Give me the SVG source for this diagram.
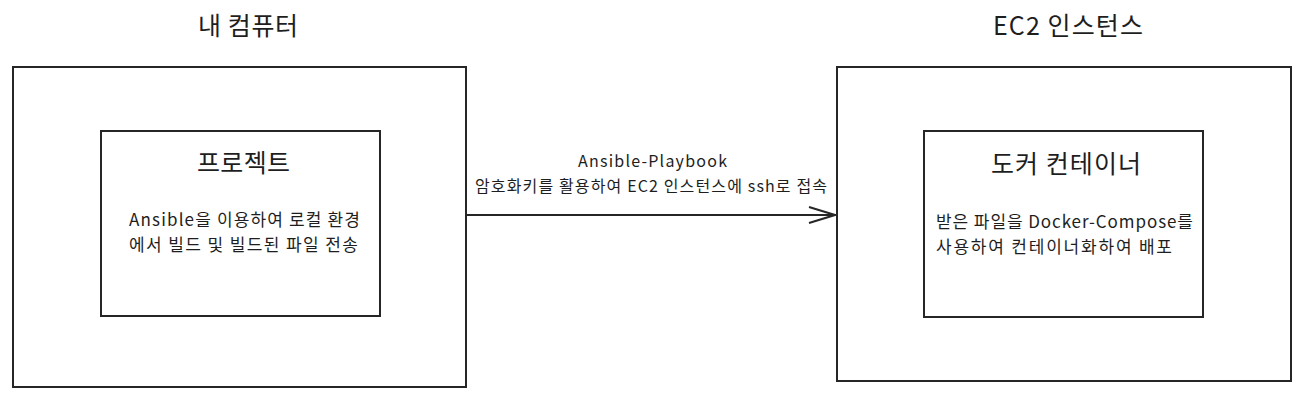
<svg xmlns="http://www.w3.org/2000/svg" width="1304" height="404" viewBox="0 0 1304 404">
<defs>
<style>
.box{fill:#fff;stroke:#262626;stroke-width:2}
.t{font-family:"Noto Sans CJK KR","Noto Sans",sans-serif;fill:#1e1e1e}
.title{font-size:25px}
.body{font-size:17px}
.lbl{font-size:16px}
</style>
<marker id="arr" markerWidth="30" markerHeight="20" refX="28" refY="10" orient="auto" markerUnits="userSpaceOnUse">
<path d="M2,2 L28,10 L2,18" fill="none" stroke="#262626" stroke-width="2"/>
</marker>
</defs>
<rect width="1304" height="404" fill="#fff"/>
<g id="my-computer">
<text class="t title" x="198" y="35" textLength="100" lengthAdjust="spacing">내 컴퓨터</text>
<rect class="box" x="13" y="67" width="453" height="320"/>
</g>
<g id="project">
<rect class="box" x="101" y="131" width="279" height="185"/>
<text class="t title" x="197" y="172" textLength="93" lengthAdjust="spacing">프로젝트</text>
<text class="t body" x="129" y="226" textLength="231" lengthAdjust="spacing">Ansible을 이용하여 로컬 환경</text>
<text class="t body" x="129" y="251" textLength="229" lengthAdjust="spacing">에서 빌드 및 빌드된 파일 전송</text>
</g>
<g id="ec2-instance">
<text class="t title" x="993" y="35" textLength="150" lengthAdjust="spacing">EC2 인스턴스</text>
<rect class="box" x="837" y="67" width="454" height="314"/>
</g>
<g id="docker-container">
<rect class="box" x="924" y="131" width="279" height="186"/>
<text class="t title" x="991" y="173" textLength="150" lengthAdjust="spacing">도커 컨테이너</text>
<text class="t body" x="936" y="228" textLength="257" lengthAdjust="spacing">받은 파일을 Docker-Compose를</text>
<text class="t body" x="936" y="253" textLength="236" lengthAdjust="spacing">사용하여  컨테이너화하여 배포</text>
</g>
<g id="connectors">
<line x1="466" y1="215" x2="835" y2="215" stroke="#262626" stroke-width="2" marker-end="url(#arr)"/>
<text class="t lbl" x="578" y="167" textLength="149" lengthAdjust="spacing">Ansible-Playbook</text>
<text class="t lbl" x="475" y="192" textLength="352" lengthAdjust="spacing">암호화키를 활용하여 EC2 인스턴스에 ssh로 접속</text>
</g>
</svg>
